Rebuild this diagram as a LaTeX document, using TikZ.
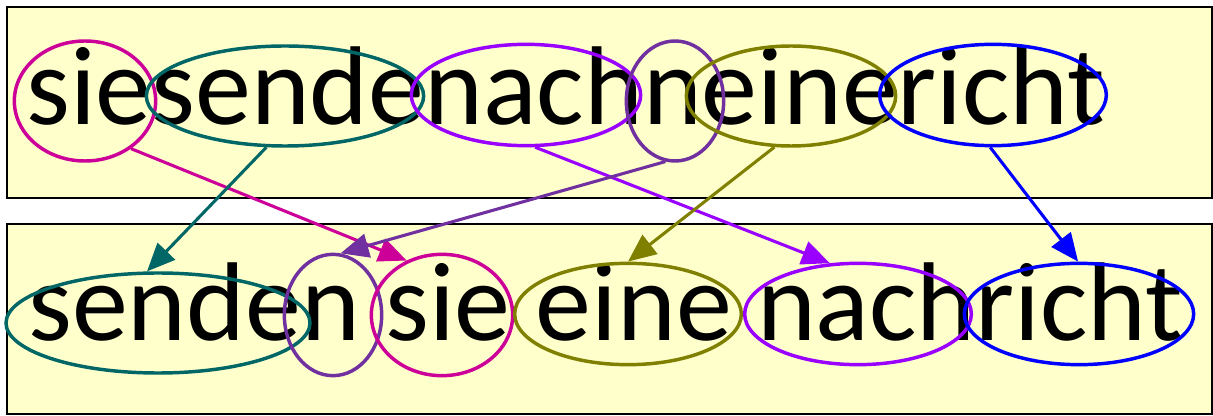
\documentclass[tikz,border=0pt]{standalone}
\usepackage{fontspec}
\setmainfont{Carlito}
\usetikzlibrary{shapes.geometric,arrows.meta}

\definecolor{ringmag}{HTML}{CC0099}
\definecolor{ringteal}{HTML}{006666}
\definecolor{ringviolet}{HTML}{9900FF}
\definecolor{ringpurple}{HTML}{7030A0}
\definecolor{ringolive}{HTML}{808000}
\definecolor{ringblue}{HTML}{0000FF}
\definecolor{panelfill}{HTML}{FFFFCC}

\tikzset{
  panel/.style={draw=black, fill=panelfill, line width=1.2pt},
  wordline/.style={anchor=base west, inner sep=0pt, font=\fontsize{84pt}{90pt}\selectfont},
  ring/.style={draw, ellipse, line width=2.6pt, inner sep=0pt},
  link/.style={-{Triangle[length=21pt,width=18pt]}, line width=2.3pt}
}

\begin{document}
\begin{tikzpicture}[x=0.75pt,y=-0.75pt]
    \useasboundingbox (0,0) rectangle (1213,416);

    % Draw the two panels
    \draw[panel] (7,7) rectangle (1212,198);
    \draw[panel] (7,224) rectangle (1212,414);

    % Add the words
    \node[wordline] (topline) at (26,125) {siesendenachneinericht};
    \node[wordline] (botline) at (28,340) {senden sie eine nachricht};

    % Rings round the top words
    \node[ring, ringmag, minimum width=106pt, minimum height=90pt] (sieA) at (85,101) {};
    \node[ring, ringteal, minimum width=208pt, minimum height=75pt] (sendeA) at (285,96) {};
    \node[ring, ringviolet, minimum width=172pt, minimum height=76pt] (nachA) at (526,95) {};
    \node[ring, ringpurple, minimum width=73pt, minimum height=90pt] (nA) at (675,101) {};
    \node[ring, ringolive, minimum width=157pt, minimum height=75pt] (eineA) at (791,96) {};
    \node[ring, ringblue, minimum width=170pt, minimum height=76pt] (richtA) at (993,95) {};

    % Rings round the bottom words
    \node[ring, ringteal, minimum width=228pt, minimum height=75pt] (sendenB) at (158,323) {};
    \node[ring, ringpurple, minimum width=73pt, minimum height=91pt] (nB) at (333,315) {};
    \node[ring, ringmag, minimum width=106pt, minimum height=91pt] (sieB) at (442,315) {};
    \node[ring, ringolive, minimum width=170pt, minimum height=76pt] (eineB) at (628,314) {};
    \node[ring, ringviolet, minimum width=170pt, minimum height=76pt] (nachB) at (858,314) {};
    \node[ring, ringblue, minimum width=172pt, minimum height=76pt] (richtB) at (1079,314) {};

    % Draw arrows
    \draw[link, ringmag] (sieA.-46) -- (sieB.123);
    \draw[link, ringteal] (sendeA.-110) -- (sendenB.102);
    \draw[link, ringviolet] (nachA.-80) -- (nachB.119);
    \draw[link, ringpurple] (nA.-99) -- (nB.83);
    \draw[link, ringolive] (eineA.-108) -- (eineB.90);
    \draw[link, ringblue] (richtA.-93) -- (richtB.91);
  \end{tikzpicture}
\end{document}
